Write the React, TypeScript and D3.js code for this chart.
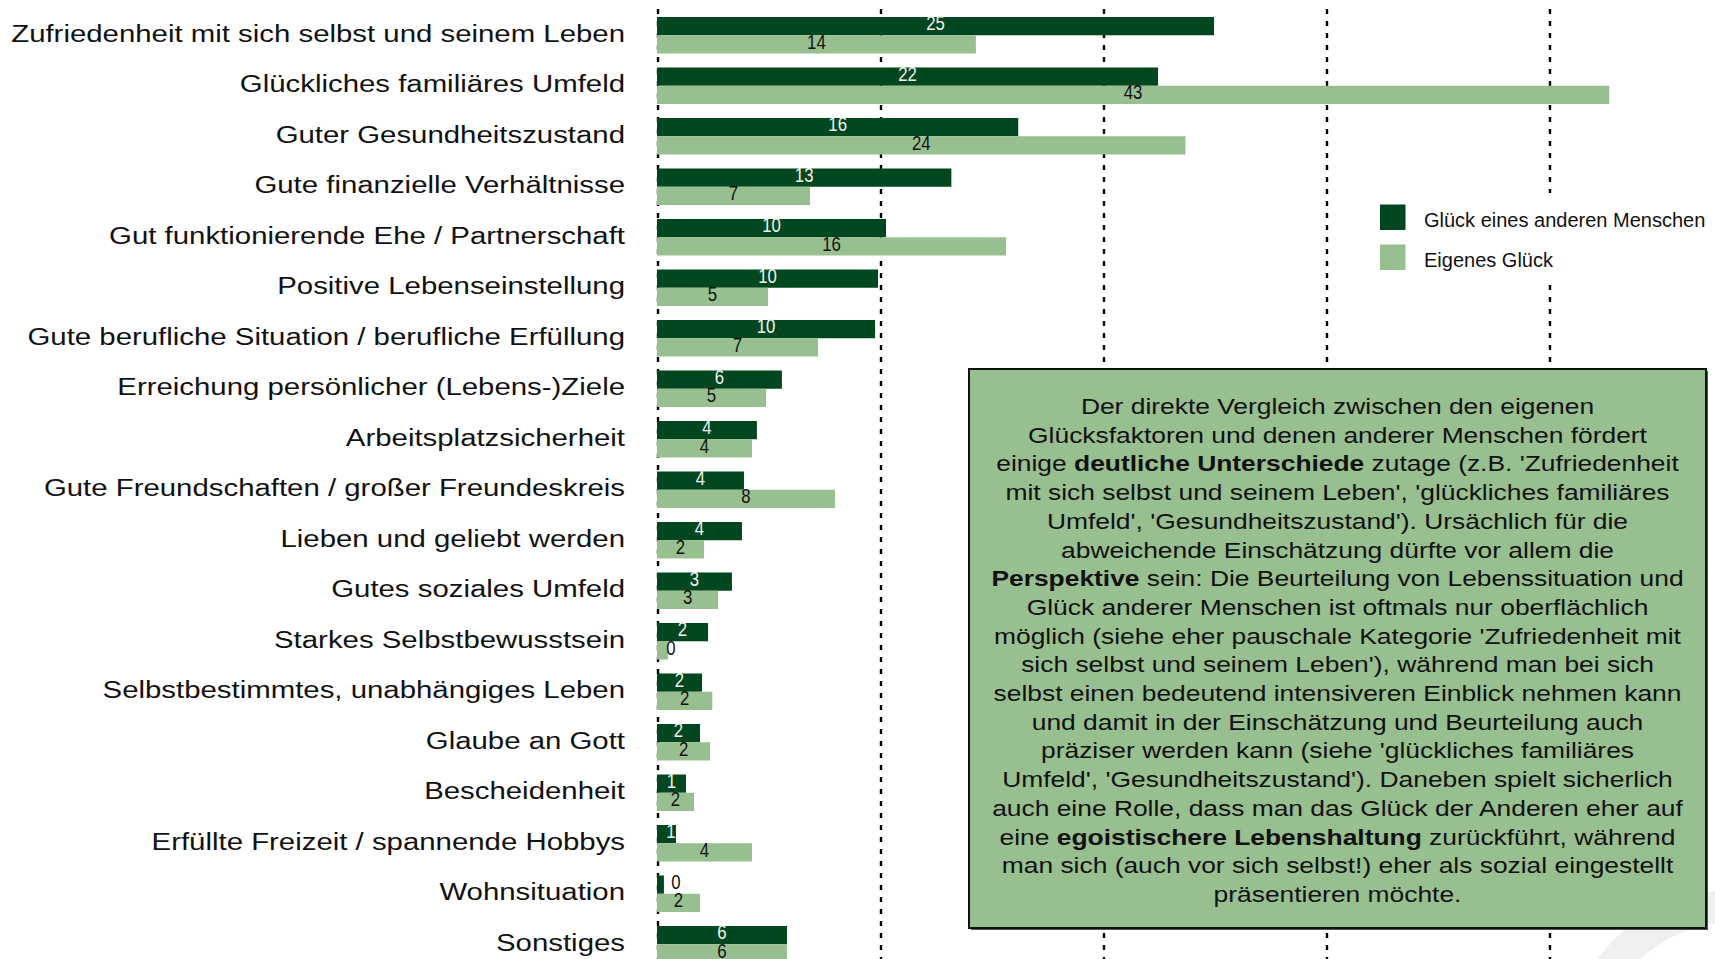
import React from 'react';
import * as d3 from 'd3';

// Kategorien und Werte (in %)
const categories = [
  'Zufriedenheit mit sich selbst und seinem Leben',
  'Glückliches familiäres Umfeld',
  'Guter Gesundheitszustand',
  'Gute finanzielle Verhältnisse',
  'Gut funktionierende Ehe / Partnerschaft',
  'Positive Lebenseinstellung',
  'Gute berufliche Situation / berufliche Erfüllung',
  'Erreichung persönlicher (Lebens-)Ziele',
  'Arbeitsplatzsicherheit',
  'Gute Freundschaften / großer Freundeskreis',
  'Lieben und geliebt werden',
  'Gutes soziales Umfeld',
  'Starkes Selbstbewusstsein',
  'Selbstbestimmtes, unabhängiges Leben',
  'Glaube an Gott',
  'Bescheidenheit',
  'Erfüllte Freizeit / spannende Hobbys',
  'Wohnsituation',
  'Sonstiges',
];

const andereValues = [24.98, 22.47, 16.2, 13.2, 10.27, 9.91, 9.78, 5.6, 4.48, 3.9, 3.81, 3.36, 2.29, 2.02, 1.93, 1.3, 0.85, 0.31, 5.83];
const eigenesValues = [14.3, 42.7, 23.7, 6.86, 15.65, 4.98, 7.22, 4.89, 4.26, 7.98, 2.11, 2.74, 0.49, 2.48, 2.38, 1.66, 4.26, 1.93, 5.83];

const xTicks = [0, 10, 20, 30, 40];
const seriesNames = ['Glück eines anderen Menschen', 'Eigenes Glück'];

const noteLines = [
  'Der direkte Vergleich zwischen den eigenen',
  'Glücksfaktoren und denen anderer Menschen fördert',
  "einige **deutliche Unterschiede** zutage (z.B. 'Zufriedenheit",
  "mit sich selbst und seinem Leben', 'glückliches familiäres",
  "Umfeld', 'Gesundheitszustand'). Ursächlich für die",
  'abweichende Einschätzung dürfte vor allem die',
  '**Perspektive** sein: Die Beurteilung von Lebenssituation und',
  'Glück anderer Menschen ist oftmals nur oberflächlich',
  "möglich (siehe eher pauschale Kategorie 'Zufriedenheit mit",
  "sich selbst und seinem Leben'), während man bei sich",
  'selbst einen bedeutend intensiveren Einblick nehmen kann',
  'und damit in der Einschätzung und Beurteilung auch',
  "präziser werden kann (siehe 'glückliches familiäres",
  "Umfeld', 'Gesundheitszustand'). Daneben spielt sicherlich",
  'auch eine Rolle, dass man das Glück der Anderen eher auf',
  'eine **egoistischere Lebenshaltung** zurückführt, während',
  'man sich (auch vor sich selbst!) eher als sozial eingestellt',
  'präsentieren möchte.',
];

const DARK = '#00461e';
const LIGHT = '#98bf8f';
const SANS = '"Liberation Sans", Arial, sans-serif';

const width = 1715;
const height = 959;

const App = () => {
  const x = d3.scaleLinear().domain([0, 40]).range([657, 1549]);

  const step = 50.5;
  const y = d3
    .scaleBand()
    .domain(categories)
    .range([10, 10 + categories.length * step])
    .paddingInner(0.277)
    .paddingOuter(0.1385);
  const bh = y.bandwidth() / 2;

  const rows = categories.map((c, i) => ({ c, a: andereValues[i], e: eigenesValues[i] }));

  // value labels, condensed look via horizontal scale
  const label = (v: number, top: number, dark: boolean, key: string) => {
    const x0 = x(0);
    const end = x(v);
    let cx = Math.max((x0 + end) / 2, x0 + 14);
    if (dark && end - x0 < 9) cx = end + 12; // tiny bar: label sits after it
    const inside = cx + 4 < end;
    return (
      <text
        key={key}
        transform={`translate(${cx},${top + 13.5}) scale(0.84,1)`}
        textAnchor="middle"
        fontFamily={SANS}
        fontSize={20}
        fill={dark && inside ? '#f2f2f2' : '#111'}
      >
        {Math.round(v)}
      </text>
    );
  };

  // faint watermark arc bottom right
  const swoosh = d3.arc()({
    innerRadius: 140,
    outerRadius: 172,
    startAngle: -1.25,
    endAngle: 0.5,
  } as any) as string;

  const box = { x: 969, y: 369, w: 737, h: 559 };

  return (
    <div style={{ position: 'absolute', left: 0, top: 0 }}>
      <svg width={width} height={height} style={{ display: 'block', overflow: 'hidden', background: '#fff' }}>
        <path d={swoosh} transform="translate(1735,1062)" fill="#eef0ef" />

        {/* gridlines */}
        {xTicks.map((t) => (
          <line
            key={t}
            x1={x(t) + 1}
            x2={x(t) + 1}
            y1={9}
            y2={height}
            stroke="#000"
            strokeWidth={2.4}
            strokeDasharray="5 7"
          />
        ))}

        {/* bars */}
        {rows.map((r) => (
          <g key={r.c}>
            <rect x={x(0)} y={y(r.c)} width={x(r.a) - x(0)} height={bh} fill={DARK} />
            <rect x={x(0)} y={(y(r.c) as number) + bh} width={x(r.e) - x(0)} height={bh} fill={LIGHT} />
          </g>
        ))}

        {rows.map((r) => label(r.a, y(r.c) as number, true, r.c + '-a'))}
        {rows.map((r) => label(r.e, (y(r.c) as number) + bh, false, r.c + '-e'))}

        {/* category labels */}
        {rows.map((r) => (
          <text
            key={r.c + '-l'}
            transform={`translate(625,${(y(r.c) as number) + bh + 6.5}) scale(1.25,1)`}
            textAnchor="end"
            fontFamily={SANS}
            fontSize={23.5}
            fill="#111"
          >
            {r.c}
          </text>
        ))}

        {/* legend */}
        <rect x={1370} y={193} width={345} height={92} fill="#fff" />
        {seriesNames.map((s, i) => (
          <g key={s}>
            <rect x={1380} y={204.5 + i * 40} width={25.5} height={25.5} fill={i === 0 ? DARK : LIGHT} />
            <text
              transform={`translate(1424,${226.7 + i * 40}) scale(1,1)`}
              fontFamily={SANS}
              fontSize={20}
              fill="#111"
            >
              {s}
            </text>
          </g>
        ))}

        {/* note box */}
        <rect x={box.x + 2} y={box.y + 2} width={box.w} height={box.h} fill="#555" />
        <rect x={box.x} y={box.y} width={box.w} height={box.h} fill={LIGHT} stroke="#111" strokeWidth={2} />
        {noteLines.map((line, i) => (
          <text
            key={i}
            transform={`translate(${box.x + box.w / 2},${414 + i * 28.7}) scale(1.2,1)`}
            textAnchor="middle"
            fontFamily={SANS}
            fontSize={22}
            fill="#111"
          >
            {line.split('**').map((part, j) => (
              <tspan key={j} fontWeight={j % 2 === 1 ? 'bold' : 'normal'}>
                {part}
              </tspan>
            ))}
          </text>
        ))}
      </svg>
    </div>
  );
};

export default App;
